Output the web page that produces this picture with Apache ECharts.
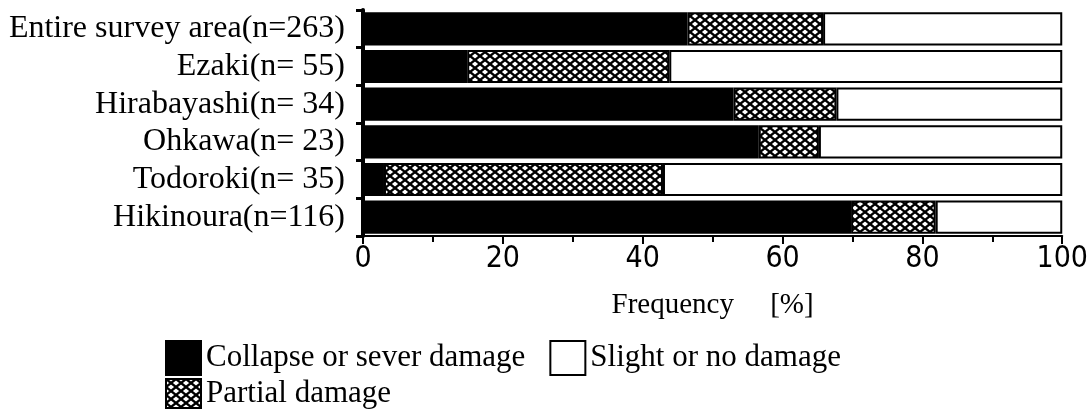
<!DOCTYPE html>
<html>
<head>
<meta charset="utf-8">
<script src="https://cdn.jsdelivr.net/npm/echarts@6/dist/echarts.min.js"></script>
<style>
html,body{margin:0;padding:0;background:#fff;}
#chart{width:1091px;height:410px;}
</style>
</head>
<body>
<div id="chart"></div>
<script>
var categories = ["Entire survey area(n=263)", "Ezaki(n= 55)", "Hirabayashi(n= 34)", "Ohkawa(n= 23)", "Todoroki(n= 35)", "Hikinoura(n=116)"];
var collapse = [46.4, 14.9, 53.0, 56.6, 3.0, 69.8];
var partial  = [19.4, 28.9, 14.7,  8.6, 39.9, 12.1];
var slight   = [34.2, 56.2, 32.3, 34.8, 57.1, 18.1];
var xTicks = [0, 20, 40, 60, 80, 100];
var seriesNames = ["Collapse or sever damage", "Partial damage", "Slight or no damage"];

function hatch() {
  var w = 10, h = 8;
  var c = document.createElement('canvas');
  c.width = w; c.height = h;
  var ctx = c.getContext('2d');
  ctx.fillStyle = '#fff';
  ctx.fillRect(0, 0, w, h);
  ctx.strokeStyle = '#000';
  ctx.lineWidth = 2.4;
  for (var dx = -w; dx <= w; dx += w) {
    for (var dy = -h; dy <= h; dy += h) {
      ctx.beginPath();
      ctx.moveTo(dx, dy); ctx.lineTo(dx + w, dy + h);
      ctx.moveTo(dx + w, dy); ctx.lineTo(dx, dy + h);
      ctx.stroke();
    }
  }
  return c;
}

var serif = "'Liberation Serif', 'DejaVu Serif', serif";
var narrow = "'Liberation Sans Narrow', 'DejaVu Sans Condensed', 'Roboto Condensed', 'Liberation Sans', sans-serif";
var chart = echarts.init(document.getElementById('chart'), null, {renderer: 'canvas'});
var hatchColor = {image: hatch(), repeat: 'repeat'};

var option = {
  backgroundColor: '#fff',
  animation: false,
  grid: {left: 363, right: 24, top: 10, bottom: 174},
  legend: [
    {
      data: [seriesNames[0], seriesNames[2]],
      left: 160, top: 335, orient: 'horizontal',
      itemWidth: 35, itemHeight: 34, itemGap: 24,
      icon: 'rect',
      textStyle: {fontFamily: serif, fontSize: 31, color: '#000'},
      selectedMode: false
    },
    {
      data: [seriesNames[1]],
      left: 160, top: 373, orient: 'horizontal',
      itemWidth: 35, itemHeight: 29,
      icon: 'rect',
      textStyle: {fontFamily: serif, fontSize: 31, color: '#000'},
      selectedMode: false
    }
  ],
  xAxis: {
    type: 'value', min: 0, max: 100, interval: 20,
    name: 'Frequency     [%]', nameLocation: 'middle', nameGap: 55,
    nameTextStyle: {fontFamily: serif, fontSize: 29, color: '#000'},
    axisLine: {show: true, lineStyle: {color: '#000', width: 2}},
    axisTick: {show: true, length: 8, lineStyle: {color: '#000', width: 2}},
    minorTick: {show: true, splitNumber: 2, length: 6, lineStyle: {color: '#000', width: 2}},
    splitLine: {show: false},
    axisLabel: {
      margin: 8, fontFamily: narrow, fontSize: 30, color: '#000',
      formatter: function (v) { return xTicks.indexOf(v) >= 0 ? String(v) : ''; }
    }
  },
  yAxis: {
    type: 'category', data: categories, inverse: true,
    axisLine: {show: true, lineStyle: {color: '#000', width: 4}},
    axisTick: {show: true, length: 7, lineStyle: {color: '#000', width: 3}},
    axisLabel: {interval: 0, margin: 18, fontFamily: serif, fontSize: 32, color: '#000'},
    splitLine: {show: false}
  },
  series: [
    {
      name: seriesNames[0], type: 'bar', stack: 'total', data: collapse,
      barCategoryGap: '12%',
      itemStyle: {color: '#000', borderColor: '#000', borderWidth: 2}
    },
    {
      name: seriesNames[1], type: 'bar', stack: 'total', data: partial,
      barCategoryGap: '12%',
      itemStyle: {color: hatchColor, borderColor: '#000', borderWidth: 2}
    },
    {
      name: seriesNames[2], type: 'bar', stack: 'total', data: slight,
      barCategoryGap: '12%',
      itemStyle: {color: '#fff', borderColor: '#000', borderWidth: 2}
    }
  ]
};
chart.setOption(option);
</script>
</body>
</html>
